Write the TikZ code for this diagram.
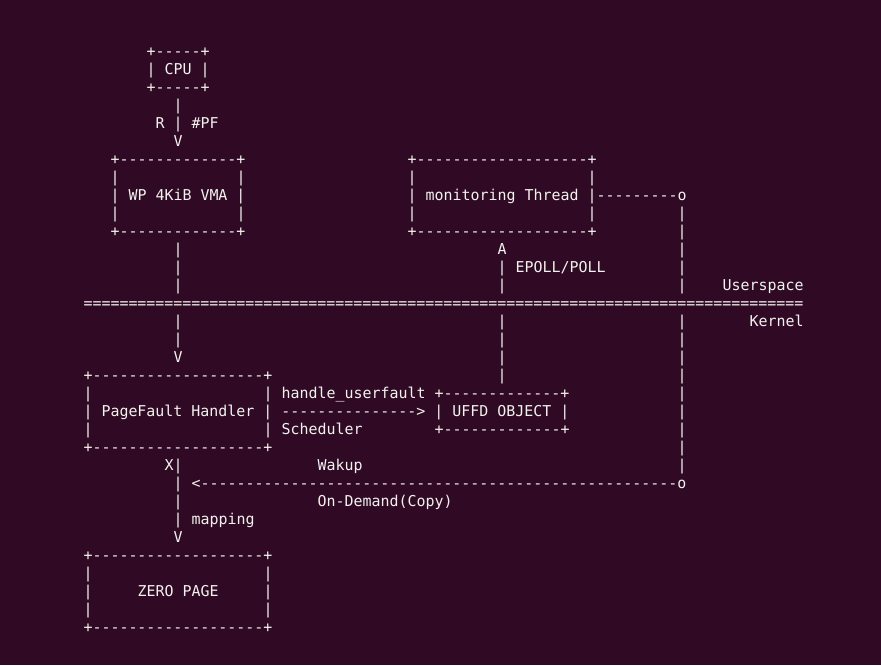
\documentclass[tikz,border=0pt]{standalone}
\usepackage{fontspec}
\setmonofont{DejaVu Sans Mono}
\definecolor{termbg}{HTML}{300A24}
\definecolor{termfg}{HTML}{F2F2EE}
\ExplSyntaxOn
\cs_new:Npn \RepC #1#2 { \prg_replicate:nn {#1} {#2} }
\ExplSyntaxOff
\newcommand{\Txt}[4]{\node[txt] (#1) at ({83.5+9*#2},{56.5+18*#3}) {#4};}
\begin{document}
\begin{tikzpicture}[x=1pt,y=-1pt,
  txt/.style={anchor=base west,inner sep=0pt,outer sep=0pt,text=termfg,
    font=\ttfamily\fontsize{14.95}{18}\selectfont}]
\fill[termbg] (0,0) rectangle (881,665);
\useasboundingbox (0,0) rectangle (881,665);
% CPU
\Txt{cpuT}{7}{0}{+\RepC{5}{-}+}
\Txt{cpuM}{7}{1}{| CPU |}
\Txt{cpuB}{7}{2}{+\RepC{5}{-}+}
\Txt{a3}{10}{3}{|}
\Txt{a4}{8}{4}{R | \#PF}
\Txt{a5}{10}{5}{V}
% VMA and monitoring thread
\Txt{vmaT}{3}{6}{+\RepC{13}{-}+}
\Txt{monT}{36}{6}{+\RepC{19}{-}+}
\Txt{vmaL7}{3}{7}{|}\Txt{vmaR7}{17}{7}{|}
\Txt{monL7}{36}{7}{|}\Txt{monR7}{56}{7}{|}
\Txt{vmaM}{3}{8}{| WP 4KiB VMA |}
\Txt{monM}{36}{8}{| monitoring Thread |\RepC{9}{-}o}
\Txt{vmaL9}{3}{9}{|}\Txt{vmaR9}{17}{9}{|}
\Txt{monL9}{36}{9}{|}\Txt{monR9}{56}{9}{|}
\Txt{r9}{66}{9}{|}
\Txt{vmaB}{3}{10}{+\RepC{13}{-}+}
\Txt{monB}{36}{10}{+\RepC{19}{-}+}
\Txt{r10}{66}{10}{|}
\Txt{l11}{10}{11}{|}\Txt{m11}{46}{11}{A}\Txt{r11}{66}{11}{|}
\Txt{l12}{10}{12}{|}\Txt{m12}{46}{12}{| EPOLL/POLL}\Txt{r12}{66}{12}{|}
\Txt{l13}{10}{13}{|}\Txt{m13}{46}{13}{|}\Txt{r13}{66}{13}{|}
\Txt{user}{71}{13}{Userspace}
\Txt{sep}{0}{14}{\RepC{80}{=}}
\Txt{l15}{10}{15}{|}\Txt{m15}{46}{15}{|}\Txt{r15}{66}{15}{|}
\Txt{kern}{74}{15}{Kernel}
\Txt{l16}{10}{16}{|}\Txt{m16}{46}{16}{|}\Txt{r16}{66}{16}{|}
\Txt{l17}{10}{17}{V}\Txt{m17}{46}{17}{|}\Txt{r17}{66}{17}{|}
% PageFault handler and UFFD object
\Txt{pfT}{0}{18}{+\RepC{19}{-}+}\Txt{m18}{46}{18}{|}\Txt{r18}{66}{18}{|}
\Txt{pfL19}{0}{19}{|}
\Txt{pf19}{20}{19}{| handle\_userfault +\RepC{13}{-}+}
\Txt{r19}{66}{19}{|}
\Txt{pfM}{0}{20}{| PageFault Handler | \RepC{15}{-}> | UFFD OBJECT |}
\Txt{r20}{66}{20}{|}
\Txt{pfL21}{0}{21}{|}
\Txt{pf21}{20}{21}{| Scheduler}
\Txt{ufB}{39}{21}{+\RepC{13}{-}+}
\Txt{r21}{66}{21}{|}
\Txt{pfB}{0}{22}{+\RepC{19}{-}+}\Txt{r22}{66}{22}{|}
\Txt{l23}{9}{23}{X|}\Txt{wak}{26}{23}{Wakup}\Txt{r23}{66}{23}{|}
\Txt{l24}{10}{24}{|}\Txt{back}{12}{24}{<\RepC{53}{-}o}
\Txt{l25}{10}{25}{|}\Txt{ondem}{26}{25}{On-Demand(Copy)}
\Txt{l26}{10}{26}{| mapping}
\Txt{l27}{10}{27}{V}
% Zero page
\Txt{zpT}{0}{28}{+\RepC{19}{-}+}
\Txt{zpL29}{0}{29}{|}\Txt{zpR29}{20}{29}{|}
\Txt{zpL30}{0}{30}{|}\Txt{zpM}{6}{30}{ZERO PAGE}\Txt{zpR30}{20}{30}{|}
\Txt{zpL31}{0}{31}{|}\Txt{zpR31}{20}{31}{|}
\Txt{zpB}{0}{32}{+\RepC{19}{-}+}
\end{tikzpicture}
\end{document}
